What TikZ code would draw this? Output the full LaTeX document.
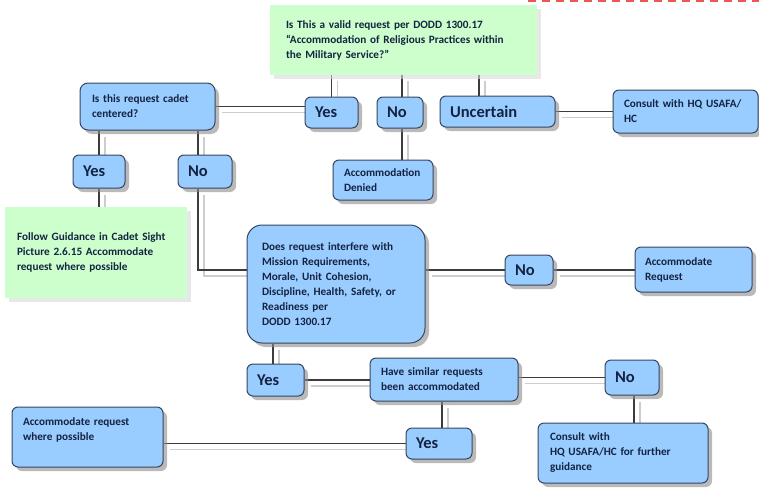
\documentclass[tikz,border=0pt]{standalone}
\usepackage{fontspec}
\setmainfont{Carlito}
\usetikzlibrary{shadows,backgrounds}
\pgfdeclarelayer{bottom}
\pgfsetlayers{bottom,background,main}
\definecolor{boxblue}{RGB}{153,204,255}
\definecolor{boxedge}{RGB}{55,70,95}
\definecolor{greenfill}{RGB}{204,255,204}
\definecolor{txt}{RGB}{20,35,65}
\definecolor{lnk}{RGB}{60,60,60}
\definecolor{lnklight}{RGB}{205,205,205}
\definecolor{reddash}{RGB}{240,85,85}
\tikzset{
  box/.style={draw=boxedge, line width=1pt, fill=boxblue, rounded corners=6pt,
    align=left, inner xsep=11pt, inner ysep=3pt, text=txt,
    font=\bfseries\fontsize{11.2}{15}\selectfont,
    drop shadow={shadow xshift=4pt, shadow yshift=-4pt, fill=black!45, opacity=0.6}},
  ans/.style={box, font=\bfseries\fontsize{16.5}{18}\selectfont, inner xsep=10pt},
  gnote/.style={fill=greenfill, align=left, inner xsep=12pt, inner ysep=3pt, text=txt,
    font=\bfseries\fontsize{11.2}{15}\selectfont,
    drop shadow={shadow xshift=4pt, shadow yshift=-4pt, fill=black!15, opacity=0.6}},
  conn/.style={draw=lnk, line width=1.4pt,
    preaction={draw=lnklight, line width=1.4pt, transform canvas={shift={(6pt,-6pt)}}}}
}
\begin{document}
\begin{tikzpicture}[x=1pt,y=-1pt]
\useasboundingbox (0,0) rectangle (759,487);
\begin{pgfonlayer}{bottom}
  \fill[white] (0,0) rectangle (759,487);
\end{pgfonlayer}

% red dashed line (top right)
\draw[reddash, line width=1.3pt, dash pattern=on 8pt off 6pt] (528,1) -- (759,1);

% nodes
\node[gnote, inner xsep=16pt, text width=235pt, minimum height=70pt] (q1) at (403.5,40)
  {Is This a valid request per DODD 1300.17\\“Accommodation of Religious Practices within\\the Military Service?”};
\node[box, rounded corners=8pt, inner xsep=12pt, text width=111pt, minimum height=47pt] (cadet) at (147.5,106.5)
  {Is this request cadet\\centered?};
\node[ans, text width=33pt, minimum height=31pt] (yesA) at (331.5,112.5) {Yes};
\node[ans, text width=26pt, minimum height=31pt] (noA) at (400,112.5) {No};
\node[ans, text width=95pt, minimum height=31pt] (unc) at (497.5,111.5) {Uncertain};
\node[box, text width=123pt, minimum height=43pt] (consultA) at (685.5,111.5) {Consult with HQ USAFA/\\HC};
\node[box, text width=78pt, minimum height=40pt] (denied) at (383,180) {Accommodation\\Denied};
\node[ans, text width=32pt, minimum height=33pt] (yesB) at (99,171.5) {Yes};
\node[ans, text width=34pt, minimum height=33pt] (noB) at (205,171.5) {No};
\node[gnote, text width=158pt, minimum height=91pt] (guide) at (96,252.5)
  {Follow Guidance in Cadet Sight\\Picture 2.6.15 Accommodate\\request where possible};
\node[box, rounded corners=15pt, inner xsep=15pt, text width=148pt, minimum height=118pt] (big) at (336,284)
  {Does request interfere with\\Mission Requirements,\\Morale, Unit Cohesion,\\Discipline, Health, Safety, or\\Readiness per\\DODD 1300.17};
\node[ans, text width=28pt, minimum height=30pt] (noC) at (529,270) {No};
\node[box, inner xsep=10pt, text width=97pt, minimum height=45pt] (accReq) at (693.5,269.5) {Accommodate\\Request};
\node[ans, text width=37pt, minimum height=32pt] (yesD) at (275.5,380) {Yes};
\node[box, text width=126pt, minimum height=43pt] (have) at (444,379.5) {Have similar requests\\been accommodated};
\node[ans, text width=34pt, minimum height=35pt] (noE) at (632,377.5) {No};
\node[ans, text width=46pt, minimum height=31pt] (yesF) at (439,443.5) {Yes};
\node[box, text width=129pt, minimum height=60pt] (accPos) at (87.5,437) {Accommodate request\\where possible\\\mbox{}};
\node[box, inner xsep=12pt, text width=146pt, minimum height=60pt] (consultB) at (623,453)
  {Consult with\\HQ USAFA/HC for further\\guidance};

% connectors
\begin{pgfonlayer}{background}
  \draw[conn] (cadet.east) -- (cadet.east -| yesA.west);
  \draw[conn] (yesA.north |- q1.south) -- (yesA.north);
  \draw[conn] ([xshift=2pt]noA.north |- q1.south) -- ([xshift=2pt]noA.north);
  \draw[conn] ([xshift=-18.5pt]unc.north |- q1.south) -- ([xshift=-18.5pt]unc.north);
  \draw[conn] ([xshift=2pt]noA.south) -- ([xshift=2pt]noA.south |- denied.north);
  \draw[conn] (unc.east) -- (unc.east -| consultA.west);
  \draw[conn] (yesB.north |- cadet.south) -- (yesB.north);
  \draw[conn] ([xshift=-7pt]noB.north |- cadet.south) -- ([xshift=-7pt]noB.north);
  \draw[conn] (yesB.south) -- (yesB.south |- guide.north);
  \draw[conn] ([xshift=-7pt]noB.south) |- ([yshift=14pt]big.west);
  \draw[conn] (noC.west -| big.east) -- (noC.west);
  \draw[conn] (noC.east) -- (noC.east -| accReq.west);
  \draw[conn] ([xshift=-2.5pt]yesD.north |- big.south) -- ([xshift=-2.5pt]yesD.north);
  \draw[conn] (yesD.east) -- (yesD.east -| have.west);
  \draw[conn] (have.east |- noE.west) -- (noE.west);
  \draw[conn] ([xshift=-2pt]have.south) -- ([xshift=-2pt]have.south |- yesF.north);
  \draw[conn] ([xshift=2pt]noE.south) -- ([xshift=2pt]noE.south |- consultB.north);
  \draw[conn] (yesF.west -| accPos.east) -- (yesF.west);
\end{pgfonlayer}
\end{tikzpicture}
\end{document}
